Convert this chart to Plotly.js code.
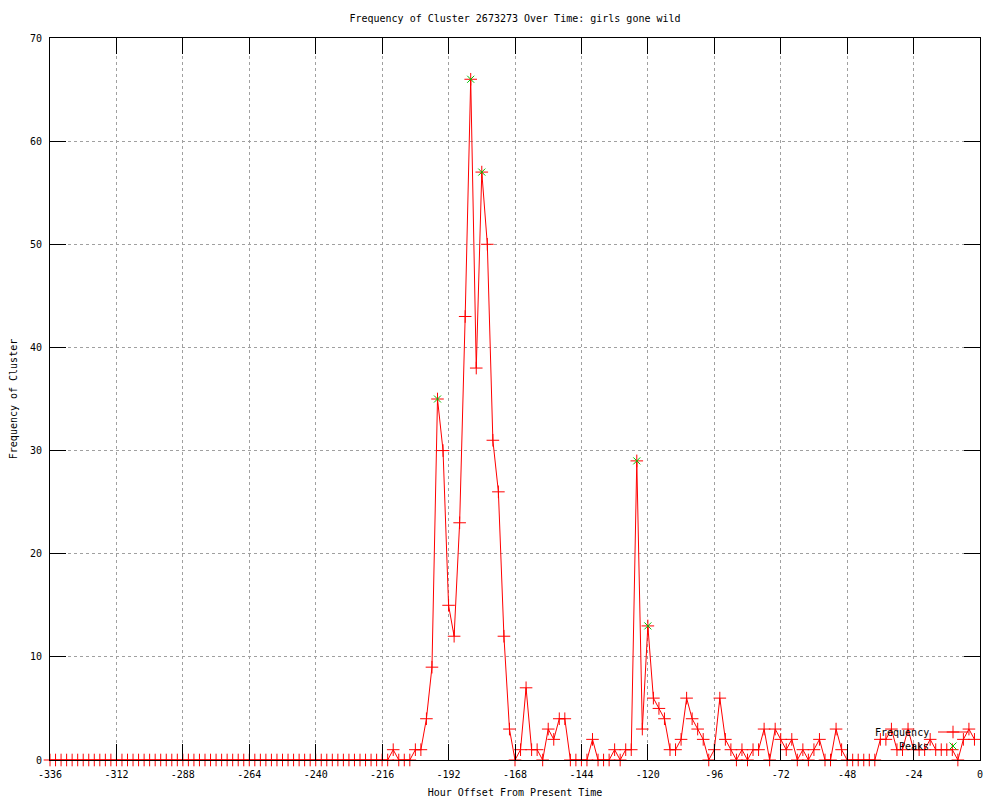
<!DOCTYPE html>
<html>
<head>
<meta charset="utf-8">
<script src="https://cdn.plot.ly/plotly-3.0.1.min.js"></script>
<style>html,body{margin:0;padding:0;background:#fff;}#chart{width:1000px;height:800px;}</style>
</head>
<body>
<div id="chart"></div>
<script>
const hours = [
  -336,-334,-332,-330,-328,-326,-324,-322,-320,-318,-316,-314,
  -312,-310,-308,-306,-304,-302,-300,-298,-296,-294,-292,-290,
  -288,-286,-284,-282,-280,-278,-276,-274,-272,-270,-268,-266,
  -264,-262,-260,-258,-256,-254,-252,-250,-248,-246,-244,-242,
  -240,-238,-236,-234,-232,-230,-228,-226,-224,-222,-220,-218,
  -216,-214,-212,-210,-208,-206,-204,-202,-200,-198,-196,-194,
  -192,-190,-188,-186,-184,-182,-180,-178,-176,-174,-172,-170,
  -168,-166,-164,-162,-160,-158,-156,-154,-152,-150,-148,-146,
  -144,-142,-140,-138,-136,-134,-132,-130,-128,-126,-124,-122,
  -120,-118,-116,-114,-112,-110,-108,-106,-104,-102,-100,-98,
  -96,-94,-92,-90,-88,-86,-84,-82,-80,-78,-76,-74,
  -72,-70,-68,-66,-64,-62,-60,-58,-56,-54,-52,-50,
  -48,-46,-44,-42,-40,-38,-36,-34,-32,-30,-28,-26,
  -24,-22,-20,-18,-16,-14,-12,-10,-8,-6,-4,-2
];
const frequency = [
  0,0,0,0,0,0,0,0,0,0,0,0,
  0,0,0,0,0,0,0,0,0,0,0,0,
  0,0,0,0,0,0,0,0,0,0,0,0,
  0,0,0,0,0,0,0,0,0,0,0,0,
  0,0,0,0,0,0,0,0,0,0,0,0,
  0,0,1,0,0,0,1,1,4,9,35,30,
  15,12,23,43,66,38,57,50,31,26,12,3,
  0,1,7,1,1,0,3,2,4,4,0,0,
  0,0,2,0,0,0,1,0,1,1,29,3,
  13,6,5,4,1,1,2,6,4,3,2,0,
  1,6,2,1,0,1,0,1,1,3,0,3,
  2,1,2,0,1,0,1,2,0,0,3,1,
  0,0,0,0,0,0,2,2,3,1,1,3,
  1,1,1,2,1,1,1,1,0,2,3,2
];
const peakHours = [-196,-184,-180,-124,-120];
const peakValues = [35,66,57,29,13];
const xTicks = [-336,-312,-288,-264,-240,-216,-192,-168,-144,-120,-96,-72,-48,-24,0];
const yTicks = [0,10,20,30,40,50,60,70];
const titleText = 'Frequency of Cluster 2673273 Over Time: girls gone wild';
const xTitle = 'Hour Offset From Present Time';
const yTitle = 'Frequency of Cluster';
const seriesNames = ['Frequency','Peaks'];

const FONT = 'DejaVu Sans Mono, monospace';

const traces = [
  {
    x: hours, y: frequency, type: 'scatter', mode: 'lines+markers', name: ' ', legend: 'legend',
    line: {color: '#ff0000', width: 1},
    marker: {symbol: 'cross-thin-open', size: 9, color: '#ff0000', line: {color: '#ff0000', width: 1}},
    cliponaxis: false
  },
  {
    x: peakHours, y: peakValues, type: 'scatter', mode: 'markers', name: ' ', legend: 'legend2',
    marker: {symbol: 'x-thin-open', size: 7, color: '#00c000', line: {color: '#00c000', width: 1}},
    cliponaxis: false
  }
];

const axisCommon = {
  showline: true, linecolor: '#000', linewidth: 1, mirror: 'ticks',
  ticks: 'inside', ticklen: 16, tickwidth: 1, tickcolor: '#000',
  showgrid: true, gridcolor: '#a0a0a0', griddash: 'dot', gridwidth: 1,
  zeroline: false, tickfont: {family: FONT, size: 10, color: '#000'}
};

const legendCommon = {
  xref: 'paper', yref: 'paper', xanchor: 'left', yanchor: 'middle',
  x: (933 - 50) / 930,
  bgcolor: 'rgba(0,0,0,0)', borderwidth: 0, font: {family: FONT, size: 10},
  itemwidth: 30
};

const layout = {
  width: 1000, height: 800,
  paper_bgcolor: '#fff', plot_bgcolor: '#fff',
  margin: {l: 50, r: 20, t: 38, b: 40},
  font: {family: FONT, size: 10, color: '#000'},
  title: {text: titleText, x: 0.5, xref: 'paper', y: 1 - 18/800, yref: 'container', yanchor: 'middle', font: {family: FONT, size: 10, color: '#000'}},
  xaxis: Object.assign({}, axisCommon, {
    range: [-336, 0], tickvals: xTicks, ticktext: xTicks.map(String), ticklabelstandoff: 5,
    title: {text: xTitle, font: {family: FONT, size: 10, color: '#000'}, standoff: 9}
  }),
  yaxis: Object.assign({}, axisCommon, {
    range: [0, 70], tickvals: yTicks, ticktext: yTicks.map(String), ticklabelstandoff: 5,
    title: {text: yTitle, font: {family: FONT, size: 10, color: '#000'}, standoff: 10}
  }),
  showlegend: true,
  legend: Object.assign({}, legendCommon, {y: (760 - 732) / 722}),
  legend2: Object.assign({}, legendCommon, {y: (760 - 746) / 722}),
  annotations: [
    {xref: 'paper', yref: 'paper', x: (931 - 50) / 930, y: (760 - 732) / 722, xanchor: 'right', yanchor: 'middle', text: seriesNames[0], showarrow: false, font: {family: FONT, size: 10, color: '#000'}},
    {xref: 'paper', yref: 'paper', x: (931 - 50) / 930, y: (760 - 746) / 722, xanchor: 'right', yanchor: 'middle', text: seriesNames[1], showarrow: false, font: {family: FONT, size: 10, color: '#000'}}
  ]
};

Plotly.newPlot('chart', traces, layout, {displayModeBar: false, staticPlot: true});
</script>
</body>
</html>
